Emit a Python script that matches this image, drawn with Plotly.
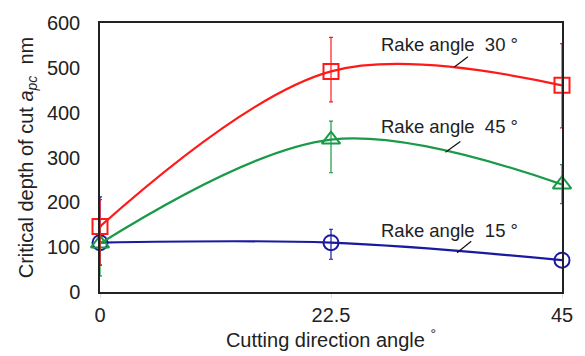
import plotly.graph_objects as go

angles = [0, 22.5, 45]
rake15 = [110, 110, 71]
rake15_up = [102, 30, 0]
rake15_dn = [50, 37, 0]
rake30 = [146, 492, 461]
rake30_up = [60, 76, 93]
rake30_dn = [86, 68, 95]
rake45 = [108, 340, 240]
rake45_up = [38, 41, 44]
rake45_dn = [72, 74, 43]

labels = ["Rake angle  30 °", "Rake angle  45 °", "Rake angle  15 °"]

fig = go.Figure()

def add(y, up, dn, color, symbol, size):
    fig.add_trace(go.Scatter(
        x=angles, y=y, mode="lines+markers",
        line=dict(color=color, width=2.2, shape="spline", smoothing=1.0),
        marker=dict(symbol=symbol, size=size, color=color,
                    line=dict(color=color, width=2)),
        error_y=dict(type="data", symmetric=False, array=up, arrayminus=dn,
                     color=color, thickness=1.2, width=2),
        showlegend=False, cliponaxis=False))

add(rake15, rake15_up, rake15_dn, "#1a1aa0", "circle-open", 15)
add(rake45, rake45_up, rake45_dn, "#1a9a48", "triangle-up-open", 16)
add(rake30, rake30_up, rake30_dn, "#ff1a1a", "square-open", 15)

fam = "Liberation Sans, Arial, sans-serif"
font = dict(family=fam, size=20, color="#222")

def px2x(px):
    return (px - 100) / (566.7 - 100) * 45

def px2y(py):
    return (295.5 - py) / (295.5 - 17.5) * 600

ann = [
    (labels[0], 453.5, 40, 458, 63, 471.7, 52.3),
    (labels[1], 453.5, 124, 449, 151, 464, 140),
    (labels[2], 453.5, 232, 460.7, 255, 475, 243),
]
for text, xa, ya, x0, y0, x1, y1 in ann:
    fig.add_annotation(x=px2x(xa), y=px2y(ya), text=text, showarrow=False,
                       font=dict(family=fam, size=18.5, color="#222"))
    fig.add_shape(type="line", x0=px2x(x0), y0=px2y(y0), x1=px2x(x1), y1=px2y(y1),
                  line=dict(color="#111", width=1.2))

fig.update_layout(
    width=585, height=356,
    margin=dict(l=100, r=18, t=18, b=61),
    paper_bgcolor="white", plot_bgcolor="white",
    font=font,
    xaxis=dict(range=[0, 45], tickvals=angles, ticktext=["0", "22.5", "45"],
               showgrid=False, zeroline=False, showline=True, linecolor="#222",
               linewidth=1.5, mirror=True, ticks="outside", ticklen=4,
               tickcolor="#ddd",
               title=dict(text="Cutting direction angle <sup>°</sup>", standoff=4,
                          font=dict(size=20)),
               tickfont=dict(size=20)),
    yaxis=dict(range=[0, 600], dtick=100, showgrid=False, zeroline=False,
               showline=True, linecolor="#222", linewidth=1.5, mirror=True,
               ticks="", ticklabelstandoff=14,
               title=dict(text="Critical depth of cut <i>a</i><sub><i>pc</i></sub>  nm",
                          standoff=8, font=dict(size=20)),
               tickfont=dict(size=20)),
)

fig.write_html("out.html")
